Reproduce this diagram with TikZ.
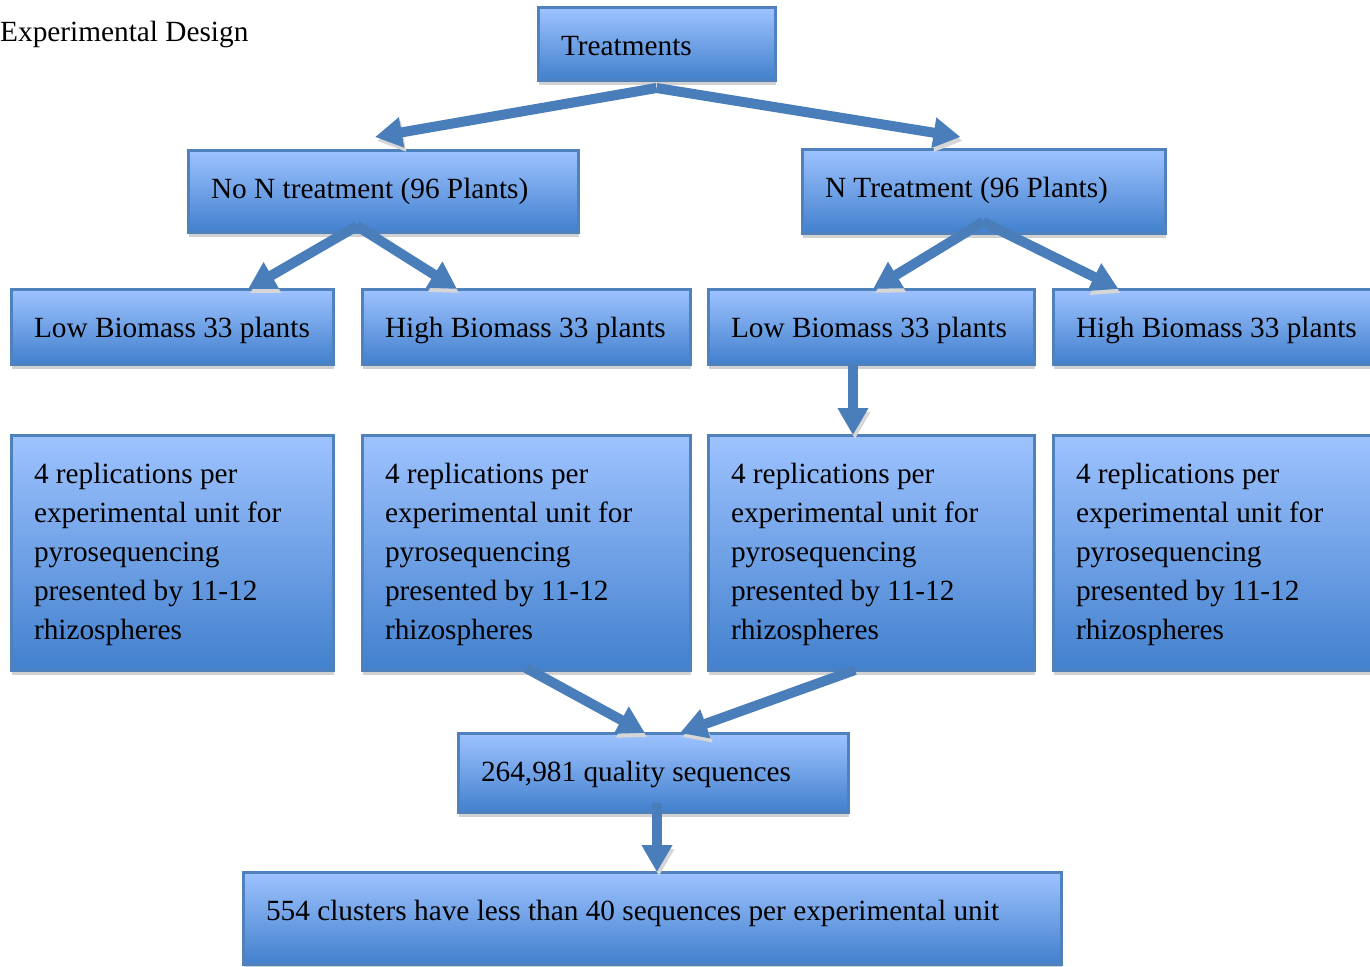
\documentclass[tikz,border=0pt]{standalone}
\usepackage{fontspec}
\setmainfont{Liberation Serif}
\usetikzlibrary{arrows.meta,calc,shadows}

\definecolor{boxtop}{RGB}{158,195,255}
\definecolor{boxbot}{RGB}{66,128,205}
\definecolor{boxline}{RGB}{79,129,189}
\definecolor{arrowblue}{RGB}{74,126,187}

\tikzset{
  box/.style={draw=boxline, line width=3pt, top color=boxtop, bottom color=boxbot,
    anchor=north west, align=flush left, inner xsep=0pt, inner ysep=0pt, outer sep=0pt,
    text height=48pt,
    font=\fontsize{29.3}{39}\selectfont, execute at begin node={\leftskip=23pt},
    drop shadow={shadow xshift=1pt, shadow yshift=-5pt, fill=black!18, opacity=1}},
  flow/.style={draw=arrowblue, line width=10pt, -{Triangle[length=27pt,width=29pt]},
    preaction={draw=black!16, transform canvas={shift={(2pt,-4pt)}}}}
}

\begin{document}
\begin{tikzpicture}[x=1pt,y=-1pt]
\useasboundingbox (0,0) rectangle (1370,966);

\node[anchor=base west, inner sep=0pt, font=\fontsize{29.3}{39}\selectfont] (title) at (0,42) {Experimental Design};

% top levels
\node[box, text width=237pt, text depth=24pt] (treat) at (538,8) {Treatments};
\node[box, text width=390pt, text depth=34pt] (non) at (188,150) {No N treatment (96 Plants)};
\node[box, text width=363pt, text depth=36pt] (nt) at (802,149) {N Treatment (96 Plants)};

% biomass groups
\node[box, text width=322pt, text depth=27pt] (low1) at (11,289) {Low Biomass 33 plants};
\node[box, text width=328pt, text depth=27pt] (high1) at (362,289) {High Biomass 33 plants};
\node[box, text width=326pt, text depth=27pt] (low2) at (708,289) {Low Biomass 33 plants};
\node[box, text width=325pt, text depth=27pt] (high2) at (1053,289) {High Biomass 33 plants};

% replications
\node[box, text width=322pt, text depth=187pt] (rep1) at (11,435) {4 replications per\\experimental unit for\\pyrosequencing\\presented by 11-12\\rhizospheres};
\node[box, text width=328pt, text depth=187pt] (rep2) at (362,435) {4 replications per\\experimental unit for\\pyrosequencing\\presented by 11-12\\rhizospheres};
\node[box, text width=326pt, text depth=187pt] (rep3) at (708,435) {4 replications per\\experimental unit for\\pyrosequencing\\presented by 11-12\\rhizospheres};
\node[box, text width=325pt, text depth=187pt] (rep4) at (1053,435) {4 replications per\\experimental unit for\\pyrosequencing\\presented by 11-12\\rhizospheres};

% results
\node[box, text width=390pt, text depth=31pt] (qual) at (458,733) {264,981 quality sequences};
\node[box, text width=818pt, text depth=44pt] (clus) at (243,872) {554 clusters have less than 40 sequences per experimental unit};

\coordinate (tsplit) at ($(treat.south)+(0,8)$);
\coordinate (nonsplit) at ($(non.south west)+(169,-6)$);
\coordinate (ntsplit) at ($(nt.south west)+(181,-11)$);

\draw[flow] (tsplit) -- ($(non.north)+(-8,-13)$);
\draw[flow] (tsplit) -- ($(nt.north)+(-23,-12)$);
\draw[flow] (nonsplit) -- ($(low1.north)+(76,0)$);
\draw[flow] (nonsplit) -- ($(high1.north)+(-69,0)$);
\draw[flow] (ntsplit) -- ($(low2.north)+(2,0)$);
\draw[flow] (ntsplit) -- ($(high2.north)+(-97,0)$);
\draw[flow] ($(low2.south)+(-18,0)$) -- ($(rep3.north)+(-18,0)$);
\draw[flow] ($(rep2.south)+(0,-2)$) -- ($(qual.north)+(-8,0)$);
\draw[flow] ($(rep3.south)+(-16,0)$) -- ($(qual.north)+(27,0)$);
\draw[flow] ($(qual.south)+(4,-9)$) -- ($(clus.north)+(5,0)$);

\end{tikzpicture}
\end{document}
